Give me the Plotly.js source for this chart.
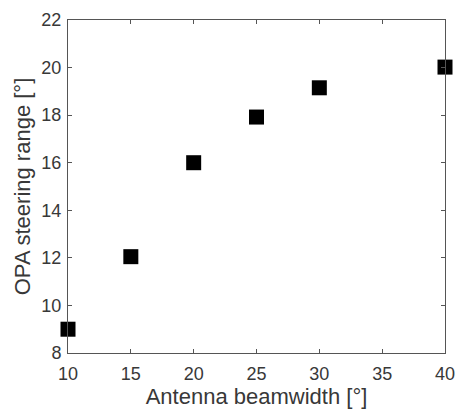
<!DOCTYPE html>
<html><head><meta charset="utf-8">
<script src="https://cdn.plot.ly/plotly-3.0.1.min.js"></script>
<style>html,body{margin:0;padding:0;background:#fff;}</style>
</head><body>
<div id="chart" style="width:456px;height:409px;"></div>
<script>
const beamwidth = [10, 15, 20, 25, 30, 40];
const steeringRange = [9.0, 12.05, 16.0, 17.92, 19.15, 20.02];
const xTicks = [10, 15, 20, 25, 30, 35, 40];
const yTicks = [8, 10, 12, 14, 16, 18, 20, 22];

const trace = {
  x: beamwidth, y: steeringRange, type: 'scatter', mode: 'markers',
  marker: {symbol: 'square', size: 15, color: '#000', line: {width: 0}},
  cliponaxis: false, hoverinfo: 'none'
};
const fam = 'Liberation Sans, Arial, sans-serif';
const tickFont = {family: fam, size: 18, color: '#383838'};
const titleFont = {family: fam, size: 22, color: '#383838'};
const layout = {
  width: 456, height: 409,
  margin: {l: 68, r: 11, t: 20, b: 56},
  paper_bgcolor: '#fff', plot_bgcolor: '#fff',
  showlegend: false,
  font: tickFont,
  xaxis: {
    range: [10, 40], tickvals: xTicks, ticktext: xTicks.map(String),
    ticks: 'inside', ticklen: 4, tickcolor: '#555', tickwidth: 1,
    showline: true, linecolor: '#555', linewidth: 1, mirror: 'ticks',
    showgrid: false, zeroline: false, tickfont: tickFont, ticklabelstandoff: 4,
    title: {text: 'Antenna beamwidth [°]', font: titleFont, standoff: 6}
  },
  yaxis: {
    range: [8, 22], tickvals: yTicks, ticktext: yTicks.map(String),
    ticks: 'inside', ticklen: 4, tickcolor: '#555', tickwidth: 1,
    showline: true, linecolor: '#555', linewidth: 1, mirror: 'ticks',
    showgrid: false, zeroline: false, tickfont: tickFont, ticklabelstandoff: 2,
    title: {text: 'OPA steering range [°]', font: titleFont, standoff: 4}
  }
};
Plotly.newPlot('chart', [trace], layout, {staticPlot: true, displayModeBar: false});
</script>
</body></html>
